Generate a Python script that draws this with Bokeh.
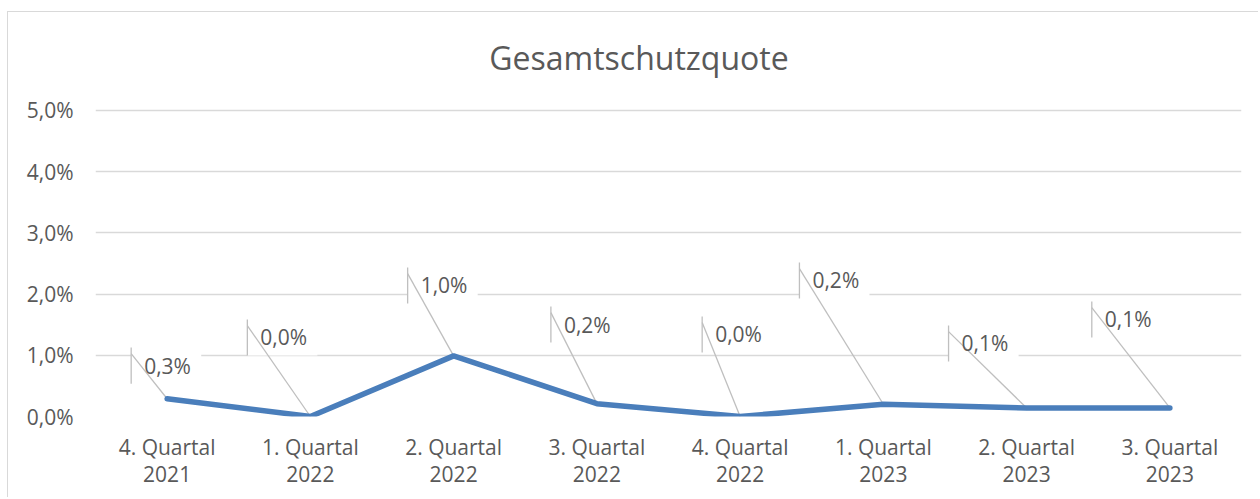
from bokeh.plotting import figure
from bokeh.models import Range1d, FixedTicker, ColumnDataSource
from bokeh.core.properties import value
from bokeh.embed import file_html
from bokeh.resources import INLINE

title_text = "Gesamtschutzquote"
categories = ["4. Quartal\n2021", "1. Quartal\n2022", "2. Quartal\n2022", "3. Quartal\n2022",
              "4. Quartal\n2022", "1. Quartal\n2023", "2. Quartal\n2023", "3. Quartal\n2023"]
values = [0.29, 0.0, 0.99, 0.21, 0.0, 0.20, 0.14, 0.14]
y_ticks = [0, 1, 2, 3, 4, 5]
y_tick_labels = ["0,0%", "1,0%", "2,0%", "3,0%", "4,0%", "5,0%"]

# manual placement of the data-label boxes (Excel-style moved labels)
label_dx = [-0.251, -0.440, -0.321, -0.321, -0.265, -0.586, -0.545, -0.545]
label_top = [1.127, 1.585, 2.435, 1.797, 1.634, 2.516, 1.487, 1.879]

FONT = "Open Sans"
TXT = "#595959"

xs = [i + 0.5 for i in range(len(categories))]
labels = [("%.1f" % v).replace(".", ",") + "%" for v in values]
box_w = 0.489
box_h = 0.59
lx = [x + d for x, d in zip(xs, label_dx)]

src = ColumnDataSource(dict(
    x=xs, y=values, lx=lx, ltop=label_top,
    lbot=[t - box_h for t in label_top],
    lright=[l + box_w for l in lx],
    ldiag=[t - 0.1 for t in label_top],
    txt=labels,
))

# the frame reaches up to the chart's top edge so the title can sit inside it;
# gridlines are drawn only at the ticks 0..5 %
p = figure(width=1251, height=486, output_backend="svg", toolbar_location=None,
           x_range=Range1d(0, len(categories)), y_range=Range1d(0, 6.6),
           min_border_left=87, min_border_right=18, min_border_top=0, min_border_bottom=82)
p.styles = {"border-left": "1px solid #d9d9d9", "border-top": "1px solid #d9d9d9",
            "margin-top": "11px", "margin-left": "7px"}

p.outline_line_color = None
p.background_fill_color = "white"
p.border_fill_color = "white"

p.xgrid.grid_line_color = None
p.ygrid.grid_line_color = "#d9d9d9"
p.ygrid.grid_line_width = 1.5
p.yaxis.ticker = FixedTicker(ticks=y_ticks)
p.yaxis.major_label_overrides = {t: l for t, l in zip(y_ticks, y_tick_labels)}
p.xaxis.ticker = FixedTicker(ticks=xs)
p.xaxis.major_label_overrides = {x: c for x, c in zip(xs, categories)}

for ax in (p.xaxis, p.yaxis):
    ax.axis_line_color = None
    ax.major_tick_line_color = None
    ax.minor_tick_line_color = None
    ax.major_label_text_font = FONT
    ax.major_label_text_font_size = "21px"
    ax.major_label_text_color = TXT
p.xaxis.major_label_text_line_height = 0.98
p.yaxis.major_label_standoff = 16
p.xaxis.major_label_standoff = 10

# label boxes (white, covering gridlines)
p.quad(left="lx", right="lright", top="ltop", bottom="lbot", source=src,
       fill_color="white", line_color=None)
# leader lines
p.segment(x0="lx", y0="ltop", x1="lx", y1="lbot", source=src, line_color="#bfbfbf", line_width=1.3)
p.segment(x0="lx", y0="ldiag", x1="x", y1="y", source=src, line_color="#bfbfbf", line_width=1.3)

p.line("x", "y", source=src, line_color="#4a7ebb", line_width=5.5, line_join="round", line_cap="round")

p.text(x="lx", y="ltop", text="txt", source=src, x_offset=13, y_offset=18,
       text_font=value(FONT), text_font_size="21px", text_color=TXT,
       text_baseline="middle", text_align="left")

# chart title, centred over the chart area
p.text(x=[3.794], y=[5.87], text=[title_text], text_align="center", text_baseline="middle",
       text_font=value(FONT), text_font_size="32px", text_color=TXT)

open("out.html", "w").write(file_html(p, INLINE))
